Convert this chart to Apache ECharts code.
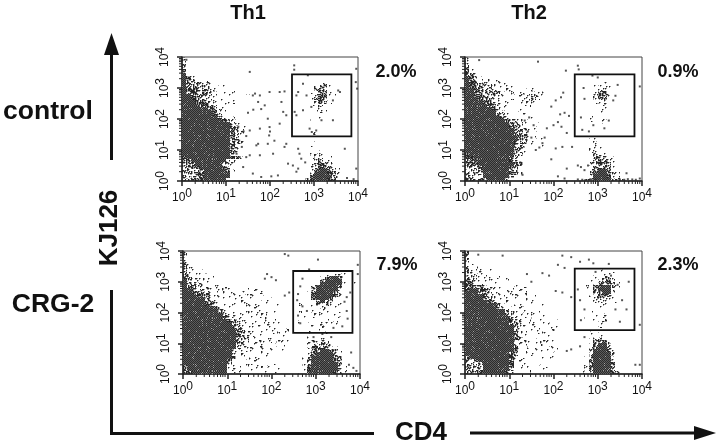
<!DOCTYPE html>
<html><head><meta charset="utf-8">
<style>html,body{margin:0;background:#fff}#c{width:720px;height:448px}</style>
<script src="https://cdn.jsdelivr.net/npm/echarts@6/dist/echarts.min.js"></script>
</head><body><div id="c"></div>
<script>
// All values are decades: log10 of the fluorescence reading. Density rows run from y=3.9 (top) to y=0.0.
// Digit = density level per 0.1-decade cell, text after | starts at x=2.5.
const decades=[0,1,2,3,4];
const minorTicks=[0.30,0.48,0.60,0.70,0.78,0.85,0.90,0.95];
const columnTitles=["Th1","Th2"];
const rowTitles=["control","CRG-2"];
const gatePercents=["2.0%","0.9%","7.9%","2.3%"];
const gateTh1Control=[2.50,3.85,1.44,3.44];
const gateTh2Control=[2.48,3.83,1.44,3.44];
const gateTh1Crg=[2.49,3.83,1.34,3.35];
const gateTh2Crg=[2.48,3.83,1.43,3.43];

const densityTh1Control=["3","3","3","3","4","52","542","5431.1|.......1","54332211|......121","5443322111|.....1341",
"54443321111|.....3441","544433221111.1|....11441","5544332211111111|.....24421","55443322111|....1344","555443221111|.....1431","5555443211|....1121","5555554321|.....11","5555555411|.....111","55555554211|.....1","555555554211|.....11",
"5555555554311|....1.1","55555555555321","555555555554321","55555555555432","55555555555432|.....1","5555555555543","5555555555543|....1","55555555555432|.....1.1","55555555555421|....11.1","55555555555431|.....11",
"5555555555543|.....121","5555555555531|....1221","45555555555431|....12211","3455555555321|....12321","344555555432|....233321","33445555544|....2344321","333345555541|....2355431","23344555555|....3555431","32334555555|....3555532","43334555551|...24555431"];

const densityTh2Control=["2","2","3","3","41","432","5431","54321111","5443321111|....1.1","54443322111|....1212",
"55443322111..1.111.1|...11231","55443333221.1112221|....13411","554433322111122332|....34421","55544332211.12231|....24311","5555443211..1121|....1221","5555544311...11|.....21","555555431...1|...1.11","5555555321..1|.....11","55555554311..11|.....1","555555554211.1.1|...1.1",
"5555555554321.11|...1..1","55555555554321.11|....1.1","555555555543211.1","5555555555543211","55555555555432111","5555555555554321.1","555555555555431.11|...11","5555555555543211.1|...121","5555555555542111.1|...121","555555555554321.1|...2211",
"55555555555431.1|...22211","4555555555532|....3321","445555555543|....33311","34555555554311|...234421","34455555555431|...234431","233455555543|...134441","2323555555431|...245541","3233555555431|...2555431","32325555553|..11555421","4323255554|.1125555321"];

const densityTh1Crg=["3","3","3","3","31","321","321.1","421111|.......11221","4321111|......135541","53211111|.....1455551",
"532211111|.....2555552.1","5432211111|....25555541","55432211111.1.1.1|....3555552","554432221111.1.1.1|...14555541","5554432211111.111.1|...15555543","55555332111111.11.11|...1455541","555553321111.1111111.1|...1.35431","5555544211.111111111.1|.1..1323211","55555554211.111111111|....112211","555555554211.11111111|.1..11211.1",
"5555555553211111111.1|....1212.1","55555555543211111111|..1.1.11.21","555555555543211111111|.1..1..1.2","5555555555543211111111.1|.1.1..1212","55555555555432111111111|....1121","555555555555432111111.11|...1.1","5555555555554321.11111.1|...1.1.1","55555555555543211111.111|...1.11","555555555555432.1111.11|...1111","555555555555431.1111.111|...12221",
"55555555555532.1111.1.1|...123321","5555555555553211.111.11|...2344321","5555555555531111.1111.1|...13455431","55555555555311.11111.1|...245555421","55555555555411.1111.1.1|..1255555431","5555555555411.1111.1.1|..1355555431","5555555555311.111.1.1.1|..1355555531","4555555555211.1.11.1.1|..1455555531","3555555555111.111..1.1|..1455555531","3455555555.11.1.1.1.11|.12555555431"];

const densityTh2Crg=["3","3","3","2","21","211","3211.1|.....11.1","32211.1|....1.11","432111.1.1|....1.221","4322111.11|...1.2441",
"43321111.1|...1234431","4433211111.1.1|..1.345541","45543211111.1|..1.35551","55543211.111.1|...134551","555543211.1111.1|...123442","5555432111.11111|..1.23321","5555543211.1.1111|...12231.1","5555555321.11.1111|...1.12.1","55555554211.111.1|...1.11","555555555311.1111.1|...1.1.1",
"5555555554211.1111|....1.1","55555555553211.1111|..1.111","555555555543211.111.1|....122","5555555555432111.111|.....11","5555555555532111.1111|.....3","55555555555321.11.111","55555555555311.1111.1|...1.1","5555555555541111.111.1|...1211","555555555554311.1111.1|...12211","555555555553211.1111.1|....2442",
"55555555555311.1111.1|...13553","5555555555541.111.111|...245541","555555555554.1.1111.1|...355542","555555555543.11111.1|...355552","355555555542.11.11.1|..1355553","3245555555421.1.11.1|..1455553","33235555554.11.1.1.1|..1455554","33325555554.1.1.1.1|..1455553","32335555553.1.1.11|..1355553","33345555542...1.1.1|.11355554321"];

const pointsTh1Control=[[1.54,3.52],[2.55,3.73],[2.55,3.59],[2.86,3.41],[3.96,3.62],[3.98,2.98],[3.95,3.19],[0.10,3.91],[2.22,2.87],[2.33,2.89],[1.99,2.87],[1.77,2.76],[1.88,2.44],[1.73,2.55],[1.61,2.76],[1.66,2.82],[2.26,2.55],[2.30,2.23],[2.37,2.12],[1.95,2.01],[1.99,1.74],[1.98,1.47],[2.22,1.85],[1.77,1.69],[1.54,1.63],[1.73,1.20],[1.69,1.15],[1.95,1.20],[2.07,0.88],[1.77,0.83],[1.54,0.83],[1.46,0.77],[2.33,1.10],[2.37,1.20],[2.41,0.56],[2.52,0.50],[2.64,0.40],[2.71,0.72],[2.67,0.88],[2.64,1.04],[3.70,1.04],[3.96,0.40],[1.61,0.24],[1.80,0.13],[2.03,0.15],[2.18,0.18],[1.39,0.45],[1.31,0.77],[1.24,0.88],[1.30,1.30],[1.36,1.10],[1.40,1.60],[1.28,1.75],[1.46,1.45],[2.75,3.14],[2.64,2.87],[2.60,2.76],[2.83,2.76],[3.55,2.92],[3.59,2.87],[3.43,2.60],[2.56,2.23],[2.60,2.12],[2.75,2.28],[2.94,2.39],[3.43,1.96],[3.17,1.96],[2.90,1.69],[3.05,1.63],[2.95,1.58],[3.00,1.52],[2.60,0.30],[2.80,0.60],[3.75,0.10],[3.90,0.06],[2.10,1.30],[2.00,1.60],[1.62,2.30],[1.80,2.32],[1.50,2.20]];

const pointsTh2Control=[[0.32,3.90],[1.65,3.85],[2.28,3.56],[2.55,3.72],[2.57,3.60],[2.88,3.40],[3.00,3.34],[3.95,3.05],[2.22,2.85],[2.17,2.70],[2.05,2.60],[1.95,2.40],[2.25,2.20],[2.35,2.10],[2.15,2.15],[2.10,1.90],[2.00,1.80],[2.18,1.75],[2.30,1.55],[1.85,1.70],[1.80,1.40],[1.75,1.22],[1.68,1.08],[1.60,1.00],[1.55,1.80],[1.45,2.05],[1.35,1.95],[1.42,1.60],[1.50,1.40],[2.05,1.05],[2.20,1.10],[2.42,1.10],[2.30,0.40],[2.10,0.15],[2.25,0.08],[1.25,0.60],[1.30,0.20],[1.95,0.70],[2.55,0.50],[2.62,0.45],[2.70,0.35],[2.78,0.50],[2.55,0.05],[2.65,0.04],[2.72,0.03],[2.85,0.05],[2.95,0.04],[3.50,0.05],[3.60,0.04],[3.68,0.06],[3.78,0.05],[3.86,0.04],[3.95,0.08],[3.65,0.25],[2.68,3.00],[2.70,2.65],[2.62,2.05],[2.90,1.80],[3.15,1.70],[3.25,1.95],[2.80,1.60],[2.65,1.65],[3.35,2.60],[3.40,2.75],[3.45,3.10]];

const pointsTh1Crg=[[2.30,3.90],[2.38,3.85],[3.05,3.72],[3.95,3.55],[3.95,3.25],[2.85,3.40],[2.70,3.10],[2.65,2.85],[2.60,2.60],[2.58,2.40],[2.70,2.20],[2.80,2.05],[2.60,1.90],[2.65,1.65],[3.65,2.35],[3.70,2.50],[3.70,2.05],[3.78,2.65],[3.40,1.50],[3.60,1.55],[3.72,1.80],[1.85,3.10],[2.00,3.15],[2.10,3.05],[1.90,3.25],[2.40,2.65],[2.30,2.55],[3.00,0.80],[2.95,1.20],[3.15,1.30],[3.35,1.20],[3.75,0.30],[3.85,0.20],[3.92,0.10],[3.80,0.70]];

const pointsTh2Crg=[[0.30,3.88],[0.85,3.85],[2.20,3.85],[2.40,3.80],[2.60,3.65],[2.80,3.72],[2.90,3.60],[3.25,3.58],[2.25,3.45],[2.10,3.55],[1.90,3.20],[1.40,3.25],[1.75,3.28],[1.50,3.00],[2.05,2.70],[2.20,2.65],[2.40,2.50],[2.55,2.75],[2.60,2.40],[2.70,2.10],[2.62,1.75],[3.45,2.90],[3.55,2.40],[3.65,2.10],[3.40,2.10],[3.50,1.70],[3.95,1.60],[3.70,3.00],[2.95,3.32],[3.30,3.20],[3.85,0.30],[3.95,0.30],[2.40,0.80],[2.30,0.75],[2.60,0.90],[2.70,1.20]];

const panels=[
 {box:[182,57,176,124],gate:gateTh1Control,dens:densityTh1Control,pts:pointsTh1Control,pct:0,px:[396,72]},
 {box:[465,57,177,124],gate:gateTh2Control,dens:densityTh2Control,pts:pointsTh2Control,pct:1,px:[678,72]},
 {box:[183,251,177,123],gate:gateTh1Crg,dens:densityTh1Crg,pts:pointsTh1Crg,pct:2,px:[397,265]},
 {box:[465,251,177,123],gate:gateTh2Crg,dens:densityTh2Crg,pts:pointsTh2Crg,pct:3,px:[678,265]}
];
// Dot textures for the density levels (appearance only)
const coverage=[0,0.055,0.14,0.30,0.50];
function noise(x,y){const s=Math.sin(x*12.9898+y*78.233)*43758.5453;return s-Math.floor(s);}
function tile(level){
 const n=53,cv=document.createElement('canvas');cv.width=cv.height=n;const g=cv.getContext('2d');
 for(let y=0;y<n;y++)for(let x=0;x<n;x++){
  if(level===5){g.fillStyle=(x+y)%2?'#2c2c2c':(noise(x,y)<0.10?'#a0a0a0':'#5c5c5c');g.fillRect(x,y,1,1);}
  else if(noise(x,y)<coverage[level]){
   g.fillStyle='rgba(30,30,30,0.4)';g.fillRect(x+1,y,1,1);g.fillRect(x,y+1,1,1);
   g.fillStyle='#262626';g.fillRect(x,y,1,1);
  }
 }
 return {image:cv,repeat:'repeat'};
}
const fills=[null,1,2,3,4,5].map(l=>l?tile(l):null);
function cellsOf(rows){
 const out=[];
 rows.forEach((r,i)=>{
  const y=3.9-i*0.1,parts=r.split('|');
  [...parts[0]].forEach((c,j)=>{if(c!=='.')out.push([j*0.1,y,+c]);});
  if(parts[1])[...parts[1]].forEach((c,j)=>{if(c!=='.')out.push([2.5+j*0.1,y,+c]);});
 });
 return out;
}
const grid=[],xAxis=[],yAxis=[],series=[],graphic=[];
const labelFmt=v=>`{b|10}{s|${v}}`;
const rich={b:{fontSize:12,fontFamily:'Liberation Sans',color:'#111'},s:{fontSize:12,fontFamily:'Liberation Sans',color:'#111',padding:[0,0,8,0]}};
const allMinor=[];decades.slice(0,4).forEach(d=>minorTicks.forEach(f=>allMinor.push(d+f)));
panels.forEach((p,i)=>{
 grid.push({left:p.box[0],top:p.box[1],width:p.box[2],height:p.box[3],show:true,borderColor:'#444',borderWidth:1,backgroundColor:'#fff'});
 const ax={min:0,max:4,interval:1,type:'value',gridIndex:i,splitLine:{show:false},
  axisLine:{show:true,onZero:false,lineStyle:{color:'#222',width:1.5}},
  axisTick:{show:true,length:5,lineStyle:{color:'#222',width:1.5}}};
 xAxis.push({...ax,axisLabel:{formatter:labelFmt,rich,margin:7,hideOverlap:false,showMinLabel:true,showMaxLabel:true}});
 yAxis.push({...ax,axisLabel:{formatter:labelFmt,rich,margin:7,rotate:90,hideOverlap:false,showMinLabel:true,showMaxLabel:true}});
 series.push({type:'custom',xAxisIndex:i,yAxisIndex:i,silent:true,z:1,data:cellsOf(p.dens),
  renderItem:(pr,api)=>{
   const a=api.coord([api.value(0),api.value(1)+0.1]),b=api.coord([api.value(0)+0.1,api.value(1)]);
   const x=Math.round(a[0]),y=Math.round(a[1]);
   return {type:'rect',shape:{x,y,width:Math.round(b[0])-x,height:Math.round(b[1])-y},style:{fill:fills[api.value(2)]}};
  }});
 series.push({type:'scatter',xAxisIndex:i,yAxisIndex:i,silent:true,z:2,data:p.pts,symbol:'rect',symbolSize:2,itemStyle:{color:'#2a2a2a'}});
 series.push({type:'custom',xAxisIndex:i,yAxisIndex:i,silent:true,z:3,data:[p.gate],
  renderItem:(pr,api)=>{
   const a=api.coord([api.value(0),api.value(3)]),b=api.coord([api.value(1),api.value(2)]);
   return {type:'rect',shape:{x:a[0],y:a[1],width:b[0]-a[0],height:b[1]-a[1]},style:{fill:'none',stroke:'#111',lineWidth:1.8}};
  }});
 series.push({type:'custom',xAxisIndex:i,yAxisIndex:i,silent:true,z:3,clip:false,data:allMinor.map(v=>[v]),
  renderItem:(pr,api)=>{
   const c=api.coord([api.value(0),0]);
   return {type:'line',shape:{x1:c[0],y1:c[1],x2:c[0],y2:c[1]+3},style:{stroke:'#222',lineWidth:1}};
  }});
 series.push({type:'custom',xAxisIndex:i,yAxisIndex:i,silent:true,z:3,clip:false,data:allMinor.map(v=>[v]),
  renderItem:(pr,api)=>{
   const c=api.coord([0,api.value(0)]);
   return {type:'line',shape:{x1:c[0]-3,y1:c[1],x2:c[0],y2:c[1]},style:{stroke:'#222',lineWidth:1}};
  }});
 graphic.push({type:'text',x:p.px[0],y:p.px[1],style:{text:gatePercents[p.pct],fontFamily:'Liberation Sans',fontWeight:'bold',fontSize:18,fill:'#111',align:'center',verticalAlign:'middle'}});
});
const bold=(text,x,y,size,extra)=>Object.assign({type:'text',x,y,style:{text,fontFamily:'Liberation Sans',fontWeight:'bold',fontSize:size,fill:'#111',align:'center',verticalAlign:'middle'}},extra||{});
graphic.push(bold(columnTitles[0],248,13,20),bold(columnTitles[1],529,13,20),bold(rowTitles[0],48,112,26.5),bold(rowTitles[1],53,305,26.5));
graphic.push(bold("KJ126",110,228,26,{rotation:Math.PI/2}),bold("CD4",421,433,26));
const ln=(x1,y1,x2,y2)=>({type:'line',shape:{x1,y1,x2,y2},style:{stroke:'#111',lineWidth:3}});
graphic.push(ln(111.5,160,111.5,50),ln(111.5,290,111.5,434),ln(110,433.5,374,433.5),ln(470,433,700,433));
graphic.push({type:'polygon',shape:{points:[[111.5,33],[104,55],[119,55]]},style:{fill:'#111'}});
graphic.push({type:'polygon',shape:{points:[[716,433],[694,426],[694,440]]},style:{fill:'#111'}});
const chart=echarts.init(document.getElementById('c'),null,{renderer:'canvas'});
chart.setOption({animation:false,backgroundColor:'#fff',grid,xAxis,yAxis,series,graphic});
</script></body></html>
